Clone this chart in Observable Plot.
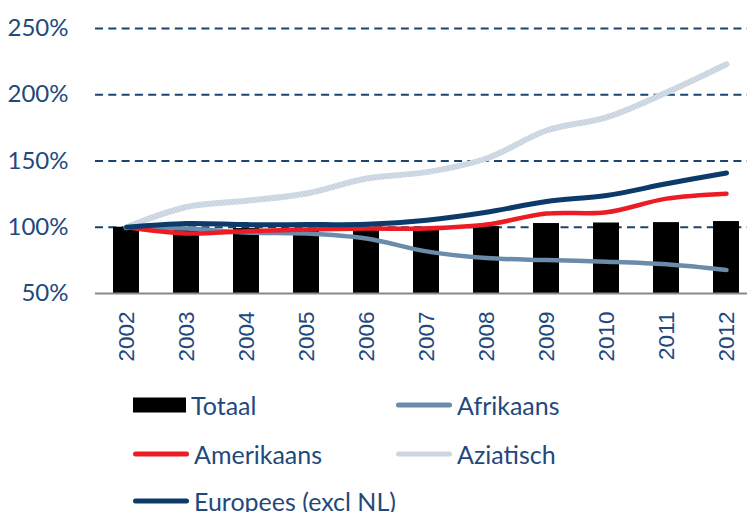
<!DOCTYPE html>
<html><head><meta charset="utf-8">
<script src="https://cdn.jsdelivr.net/npm/d3@7"></script>
<script src="https://cdn.jsdelivr.net/npm/@observablehq/plot@0.6"></script>
<style>
body{margin:0;background:#fff;}
#wrap{position:relative;width:747px;height:512px;overflow:hidden;font-family:Lato,sans-serif;}
#wrap svg.plot{position:absolute;left:0;top:0;}
.leg{position:absolute;display:flex;align-items:center;color:#1F497D;font-size:25px;line-height:1;white-space:nowrap;}
.leg svg{display:block;margin-right:5px;}
</style></head><body><div id="wrap"></div>
<script>
const years = ["2002","2003","2004","2005","2006","2007","2008","2009","2010","2011","2012"];
const totaal     = [100, 99, 99, 99, 99, 100, 100.5, 102.8, 103.2, 103.5, 104.3];
const afrikaans  = [100, 99, 96, 95.3, 91.5, 81.8, 76.8, 75.2, 74, 72, 67.7];
const amerikaans = [100, 95.3, 97, 98.3, 99, 99, 102, 110.3, 111.3, 121.6, 125.3];
const aziatisch  = [100, 115.3, 120, 125.5, 136.8, 141.6, 151.9, 173, 183, 201.7, 223];
const europees   = [100, 102.8, 102, 102, 102.3, 105.3, 111.3, 119.5, 124, 132.8, 141];
const yTicks = [50, 100, 150, 200, 250];
const gridTicks = [100, 150, 200, 250];

const TEXT = "#1F497D";
const data = years.map((y, i) => ({year: y, totaal: totaal[i], afrikaans: afrikaans[i],
  amerikaans: amerikaans[i], aziatisch: aziatisch[i], europees: europees[i]}));

const lineStyles = [
  {key: "afrikaans", label: "Afrikaans", stroke: "#6A8BA9", width: 4.5},
  {key: "amerikaans", label: "Amerikaans", stroke: "#ED1C24", width: 4.5},
  {key: "aziatisch", label: "Aziatisch", stroke: "url(#azi)", swatch: "#CBD6E1", width: 6},
  {key: "europees", label: "Europees (excl NL)", stroke: "#0B3A6B", width: 5}
];

const chart = Plot.plot({
  width: 747, height: 380,
  marginLeft: 95, marginRight: 0, marginTop: 28, marginBottom: 87,
  style: {background: "transparent", fontFamily: "Lato, sans-serif"},
  x: {type: "band", domain: years, range: [95.1, 757.6], paddingInner: 0.57, paddingOuter: 0.285},
  y: {domain: [50, 250]},
  marks: [
    Plot.ruleY(gridTicks, {stroke: "#1A4472", strokeWidth: 2, strokeDasharray: "8,5.3"}),
    Plot.barY(data, {x: "year", y1: 50, y2: "totaal", fill: "#000"}),
    Plot.ruleY([50], {stroke: "#898989", strokeWidth: 2}),
    ...lineStyles.map(s => Plot.line(data, {x: "year", y: s.key, stroke: s.stroke, strokeWidth: s.width,
      curve: "catmull-rom", strokeLinecap: "round", strokeLinejoin: "round"})),
    Plot.axisY({ticks: yTicks, tickFormat: d => d + "%", tickSize: 0, tickPadding: 27, fontSize: 24,
      fontFamily: "Lato, sans-serif", color: TEXT, label: null}),
    Plot.axisX({tickRotate: -90, tickSize: 0, tickPadding: 18, fontSize: 22.5,
      fontFamily: "Liberation Sans, Arial, sans-serif", color: TEXT, label: null})
  ]
});
chart.classList.add("plot");
d3.select(chart).insert("defs", ":first-child").html(
  '<pattern id="azi" patternUnits="userSpaceOnUse" width="4" height="4">' +
  '<rect width="4" height="4" fill="#D9E2EB"/>' +
  '<path d="M0,0L4,4M4,0L0,4" stroke="#B7C6D4" stroke-width="0.7"/></pattern>');
const wrap = document.getElementById("wrap");
wrap.appendChild(chart);

// legend
const legendItems = [
  {label: "Totaal", kind: "rect", color: "#000", left: 133, top: 405},
  {label: "Afrikaans", kind: "line", color: lineStyles[0].stroke, left: 396, top: 405},
  {label: "Amerikaans", kind: "line", color: lineStyles[1].stroke, left: 133, top: 454},
  {label: "Aziatisch", kind: "line", color: lineStyles[2].swatch, left: 396, top: 454},
  {label: "Europees (excl NL)", kind: "line", color: lineStyles[3].stroke, left: 133, top: 501}
];
for (const it of legendItems) {
  const d = document.createElement("div");
  d.className = "leg";
  d.style.left = it.left + "px";
  d.style.top = (it.top - 15) + "px";
  d.style.height = "30px";
  const sw = it.kind === "rect"
    ? `<svg width="53" height="16"><rect x="0" y="0.5" width="53" height="15" fill="${it.color}"/></svg>`
    : `<svg width="56" height="16"><line x1="2.5" y1="8" x2="53.5" y2="8" stroke="${it.color}" stroke-width="5" stroke-linecap="round"/></svg>`;
  d.innerHTML = sw + `<span>${it.label}</span>`;
  wrap.appendChild(d);
}
</script></body></html>
